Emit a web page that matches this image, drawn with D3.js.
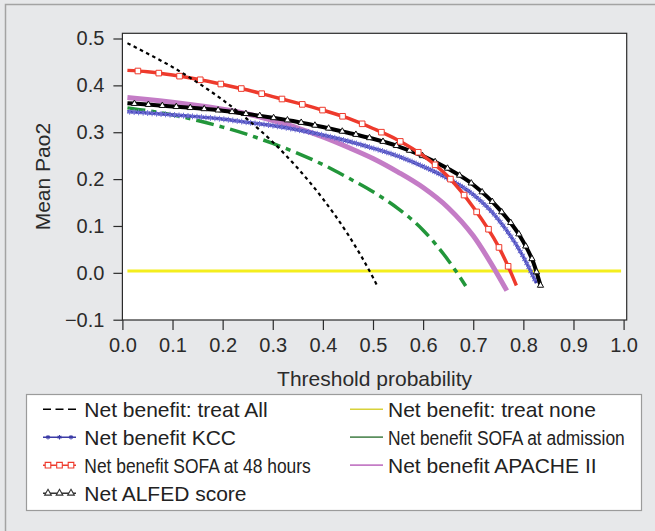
<!DOCTYPE html>
<html>
<head>
<meta charset="utf-8">
<script src="https://cdn.jsdelivr.net/npm/d3@7"></script>
<style>
  html, body { margin: 0; padding: 0; background: #e7e8ea; }
  svg { display: block; font-family: 'Liberation Sans', Arial, sans-serif; }
</style>
</head>
<body>
<svg id="chart" width="655" height="531"></svg>
<script>
// tick values
const xTicks = [0, 0.1, 0.2, 0.3, 0.4, 0.5, 0.6, 0.7, 0.8, 0.9, 1.0]
const yTicks = [-0.1, 0, 0.1, 0.2, 0.3, 0.4, 0.5]

// [threshold, net benefit]
const treatAll = [
  [0.01, 0.490], [0.05, 0.468], [0.10, 0.439], [0.15, 0.406], [0.20, 0.369], [0.25, 0.327],
  [0.30, 0.279], [0.35, 0.223], [0.40, 0.158], [0.45, 0.082], [0.50, -0.010], [0.51, -0.031]
]
const treatNone = [[0.01, 0.004], [0.995, 0.004]]
const kcc = [
  [0.01, 0.344], [0.05, 0.341], [0.10, 0.337], [0.15, 0.333], [0.20, 0.328], [0.25, 0.321],
  [0.30, 0.314], [0.35, 0.305], [0.40, 0.294], [0.45, 0.281], [0.50, 0.266], [0.55, 0.249],
  [0.60, 0.227], [0.65, 0.201], [0.70, 0.167], [0.75, 0.114], [0.80, 0.034], [0.826, -0.022]
]
const sofaAdmission = [
  [0.01, 0.352], [0.05, 0.346], [0.10, 0.337], [0.15, 0.325], [0.20, 0.311], [0.25, 0.295],
  [0.30, 0.276], [0.35, 0.255], [0.40, 0.231], [0.45, 0.203], [0.50, 0.173], [0.55, 0.137],
  [0.60, 0.091], [0.65, 0.027], [0.685, -0.028]
]
const sofa48 = [
  [0.01, 0.432], [0.05, 0.429], [0.10, 0.422], [0.15, 0.413], [0.20, 0.402], [0.25, 0.390],
  [0.30, 0.376], [0.35, 0.362], [0.40, 0.347], [0.45, 0.330], [0.50, 0.308], [0.55, 0.283],
  [0.60, 0.250], [0.65, 0.205], [0.70, 0.140], [0.75, 0.057], [0.77, 0.013], [0.786, -0.027]
]
const apache = [
  [0.01, 0.374], [0.05, 0.370], [0.10, 0.364], [0.15, 0.357], [0.20, 0.349], [0.25, 0.339],
  [0.30, 0.325], [0.35, 0.309], [0.40, 0.290], [0.45, 0.268], [0.50, 0.244], [0.55, 0.215],
  [0.60, 0.182], [0.65, 0.139], [0.70, 0.079], [0.75, -0.006], [0.767, -0.038]
]
const alfed = [
  [0.01, 0.362], [0.05, 0.359], [0.10, 0.355], [0.15, 0.351], [0.20, 0.346], [0.25, 0.339],
  [0.30, 0.331], [0.35, 0.322], [0.40, 0.311], [0.45, 0.299], [0.50, 0.286], [0.55, 0.270],
  [0.60, 0.249], [0.65, 0.222], [0.70, 0.188], [0.75, 0.138], [0.80, 0.066], [0.82, 0.022],
  [0.835, -0.030]
]

const legendLabels = [
  'Net benefit: treat All', 'Net benefit: treat none',
  'Net benefit KCC', 'Net benefit SOFA at admission',
  'Net benefit SOFA at 48 hours', 'Net benefit APACHE II',
  'Net ALFED score'
]

const
  RED    = '#ee3a2c',
  BLUE   = '#3b3ba6',
  STAR   = '#6f6fd8',
  GREEN  = '#22963a',
  PURPLE = '#c47cc6',
  YELLOW = '#f4ee1e',
  INK    = '#2b2b2b'

const
  svg        = d3.select('#chart'),
  plotLeft   = 122.4,
  plotRight  = 626.7,
  plotTop    = 33.3,
  plotBottom = 320,
  x          = d3.scaleLinear().domain([0, 1]).range([plotLeft, 623.6]),
  y          = d3.scaleLinear().domain([-0.1, 0.5]).range([319.7, 38.5])

// panel
svg.append('rect').attr('width', 655).attr('height', 531).attr('fill', '#e7e8ea')
svg.append('path')
  .attr('d', 'M5.5,531V4.5H655')
  .attr('fill', 'none')
  .attr('stroke', '#a3a3a3')
  .attr('stroke-width', 1.5)

svg.append('rect')
  .attr('x', plotLeft).attr('y', plotTop)
  .attr('width', plotRight - plotLeft).attr('height', plotBottom - plotTop)
  .attr('fill', '#fff')

// axes
const xAxis = svg.append('g')
  .attr('transform', `translate(0,${plotBottom})`)
  .call(d3.axisBottom(x).tickValues(xTicks).tickFormat(d3.format('.1f')).tickSize(10).tickPadding(8))
const yAxis = svg.append('g')
  .attr('transform', `translate(${plotLeft},0)`)
  .call(d3.axisLeft(y).tickValues(yTicks).tickFormat(d3.format('.1f')).tickSize(9).tickPadding(9))

for(const g of [xAxis, yAxis])
{
  g.select('.domain').remove()
  g.selectAll('line').attr('stroke', INK).attr('stroke-width', 1.2)
  g.selectAll('text').attr('fill', INK).style('font-size', '20px').style('font-family', 'Liberation Sans, Arial, sans-serif')
}

svg.append('text')
  .attr('x', (plotLeft + plotRight) / 2).attr('y', 386)
  .attr('text-anchor', 'middle')
  .attr('fill', INK).style('font-size', '21px')
  .text('Threshold probability')

svg.append('text')
  .attr('transform', `translate(50,${(plotTop + plotBottom) / 2}) rotate(-90)`)
  .attr('text-anchor', 'middle')
  .attr('fill', INK).style('font-size', '21px')
  .text('Mean Pao2')

// curves
const plot = svg.append('g')
const line = d3.line().x(d => x(d[0])).y(d => y(d[1])).curve(d3.curveMonotoneX)

function drawCurve(data, color, width, dash)
{
  return plot.append('path')
    .attr('d', line(data))
    .attr('fill', 'none')
    .attr('stroke', color)
    .attr('stroke-width', width)
    .attr('stroke-dasharray', dash || null)
}

function drawMarkers(path, symbol, size, spacing, stroke, fill)
{
  const
    node  = path.node(),
    total = node.getTotalLength(),
    shape = d3.symbol().type(symbol).size(size)

  for(let s = spacing / 2; s <= total; s += spacing)
  {
    const p = node.getPointAtLength(s)
    plot.append('path')
      .attr('d', shape())
      .attr('transform', `translate(${p.x},${p.y})`)
      .attr('fill', fill)
      .attr('stroke', stroke)
      .attr('stroke-width', 1)
  }
}

const asterisk = d3.symbolAsterisk || d3.symbolCross
const triangle = d3.symbolTriangle2 || d3.symbolTriangle
const square   = d3.symbolSquare2 || d3.symbolSquare

drawCurve(treatNone, YELLOW, 3)
drawCurve(sofaAdmission, GREEN, 3.5, '18,6,5,6')
drawCurve(apache, PURPLE, 5)
const kccPath = drawCurve(kcc, BLUE, 3.2)
drawMarkers(kccPath, asterisk, 24, 4.5, STAR, 'none')
const alfedPath = drawCurve(alfed, '#000', 4)
drawMarkers(alfedPath, triangle, 28, 14, '#111', '#fff')
const sofaPath = drawCurve(sofa48, RED, 3.5)
drawMarkers(sofaPath, square, 40, 21, RED, '#fff')
drawCurve(treatAll, '#000', 2.2, '3.5,3.5')

// frame
svg.append('rect')
  .attr('x', plotLeft).attr('y', plotTop)
  .attr('width', plotRight - plotLeft).attr('height', plotBottom - plotTop)
  .attr('fill', 'none')
  .attr('stroke', INK)
  .attr('stroke-width', 1.2)

// legend
const legend = svg.append('g')
legend.append('rect')
  .attr('x', 26.5).attr('y', 394.5)
  .attr('width', 615).attr('height', 116)
  .attr('fill', '#fff')
  .attr('stroke', '#9b9b9b')
  .attr('stroke-width', 1.2)

const
  colSymbol = [43, 350],
  colText   = [84.3, 388],
  rowBase   = 416.7,
  rowStep   = 28,
  // these two labels are set narrow in the original
  narrow    = { 'Net benefit SOFA at 48 hours': 226.7, 'Net benefit SOFA at admission': 237 },
  keys      = [
    { color: '#000',  dash: '8,4.5', width: 1.6 },
    { color: '#d8d23a', width: 1.6 },
    { color: BLUE,    width: 1.6, symbol: asterisk, size: 14, stroke: BLUE, fill: 'none' },
    { color: '#5b8f5e', width: 1.8 },
    { color: RED,     width: 1.6, symbol: square, size: 40, stroke: RED, fill: '#fff' },
    { color: PURPLE,  width: 1.8 },
    { color: '#333',  width: 1.4, symbol: triangle, size: 32, stroke: '#333', fill: '#fff' }
  ]

legendLabels.forEach((label, i) =>
{
  const
    col  = i % 2,
    row  = Math.floor(i / 2),
    key  = keys[i],
    x0   = colSymbol[col],
    x1   = x0 + 33,
    base = rowBase + row * rowStep,
    mid  = base - 7.5

  legend.append('line')
    .attr('x1', x0).attr('x2', x1).attr('y1', mid).attr('y2', mid)
    .attr('stroke', key.color)
    .attr('stroke-width', key.width)
    .attr('stroke-dasharray', key.dash || null)

  if(key.symbol)
  {
    const shape = d3.symbol().type(key.symbol).size(key.size)
    for(const k of [0, 1, 2])
    {
      legend.append('path')
        .attr('d', shape())
        .attr('transform', `translate(${x0 + 5 + k * 11.5},${mid})`)
        .attr('fill', key.fill)
        .attr('stroke', key.stroke)
        .attr('stroke-width', 1.1)
    }
  }

  const holder = legend.append('g')
    .attr('transform', `translate(${colText[col]},${base})`)

  const text = holder.append('text')
    .attr('fill', '#222')
    .style('font-size', '21px')
    .text(label)

  if(narrow[label])
  {
    // squeeze horizontally so the box stays the same as the original
    const sx = narrow[label] / text.node().getComputedTextLength()
    holder.attr('transform', `translate(${colText[col]},${base}) scale(${sx},1)`)
  }
})
</script>
</body>
</html>
